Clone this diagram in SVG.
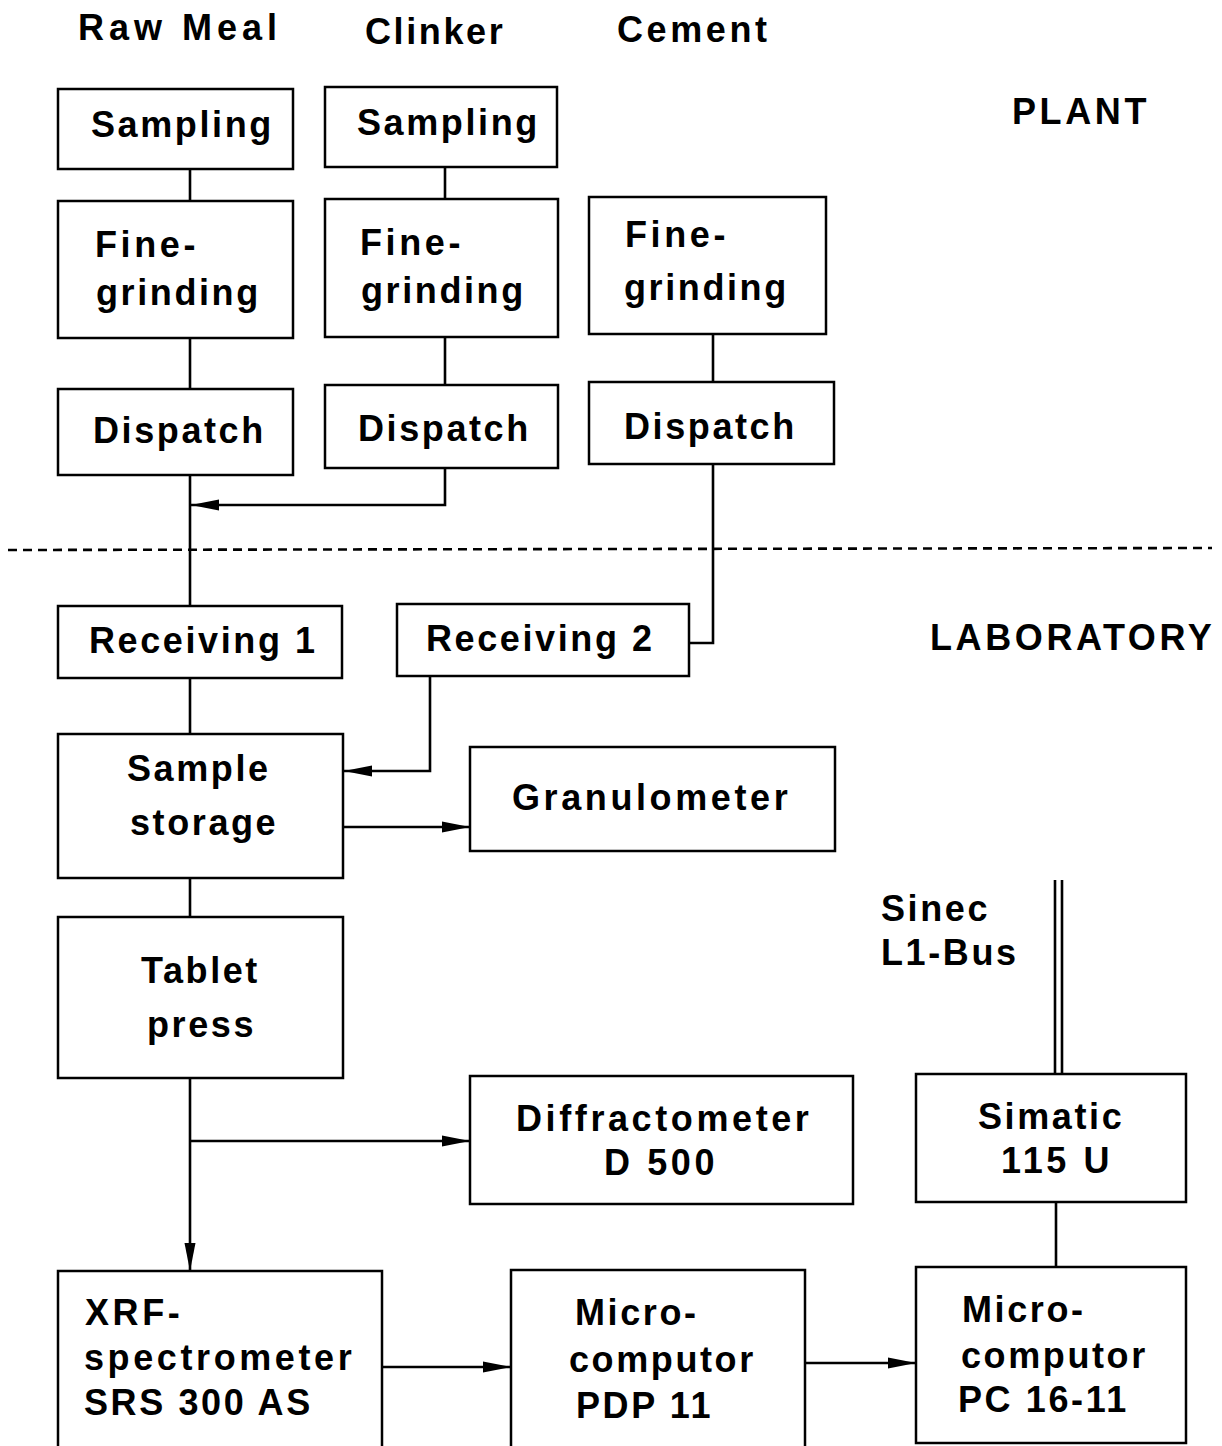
<svg xmlns="http://www.w3.org/2000/svg" width="1222" height="1446" viewBox="0 0 1222 1446">
<style>
rect.b{fill:none;stroke:#000;stroke-width:2.5}
text{font-family:"Liberation Sans",Arial,sans-serif;font-weight:bold;font-size:36px;letter-spacing:3.6px;fill:#000}
text.n{letter-spacing:2.6px}
text.w{letter-spacing:5px}
.c line,.c polyline{fill:none;stroke:#000;stroke-width:2.6}
</style>
<defs>
<marker id="ah" markerUnits="userSpaceOnUse" markerWidth="30" markerHeight="12" refX="28" refY="6" orient="auto">
<path d="M0,0.5 L28,6 L0,11.5 Z" fill="#000"/>
</marker>
</defs>
<rect width="1222" height="1446" fill="#fff"/>
<g id="headers">
<text class="w" x="78" y="40">Raw Meal</text>
<text class="n" x="365" y="44">Clinker</text>
<text x="617" y="42">Cement</text>
<text x="1012" y="124">PLANT</text>
<text x="930" y="650">LABORATORY</text>
</g>
<g id="sampling1"><rect class="b" x="58" y="89" width="235" height="80"/><text class="n" x="91" y="137">Sampling</text></g>
<g id="sampling2"><rect class="b" x="325" y="87" width="232" height="80"/><text class="n" x="357" y="135">Sampling</text></g>
<g id="fine1"><rect class="b" x="58" y="201" width="235" height="137"/><text x="95" y="257">Fine-</text><text class="n" x="96" y="305">grinding</text></g>
<g id="fine2"><rect class="b" x="325" y="199" width="233" height="138"/><text x="360" y="255">Fine-</text><text class="n" x="361" y="303">grinding</text></g>
<g id="fine3"><rect class="b" x="589" y="197" width="237" height="137"/><text x="625" y="247">Fine-</text><text class="n" x="624" y="300">grinding</text></g>
<g id="dispatch1"><rect class="b" x="58" y="389" width="235" height="86"/><text class="n" x="93" y="443">Dispatch</text></g>
<g id="dispatch2"><rect class="b" x="325" y="385" width="233" height="83"/><text class="n" x="358" y="441">Dispatch</text></g>
<g id="dispatch3"><rect class="b" x="589" y="382" width="245" height="82"/><text class="n" x="624" y="439">Dispatch</text></g>
<g id="receiving1"><rect class="b" x="58" y="606" width="284" height="72"/><text class="n" x="89" y="653">Receiving 1</text></g>
<g id="receiving2"><rect class="b" x="397" y="604" width="292" height="72"/><text class="n" x="426" y="651">Receiving 2</text></g>
<g id="storage"><rect class="b" x="58" y="734" width="285" height="144"/><text class="n" x="127" y="781">Sample</text><text class="n" x="130" y="835">storage</text></g>
<g id="granulometer"><rect class="b" x="470" y="747" width="365" height="104"/><text x="512" y="810">Granulometer</text></g>
<g id="tablet"><rect class="b" x="58" y="917" width="285" height="161"/><text class="n" x="141" y="983">Tablet</text><text class="n" x="147" y="1037">press</text></g>
<g id="diffractometer"><rect class="b" x="470" y="1076" width="383" height="128"/><text x="516" y="1131">Diffractometer</text><text x="604" y="1175">D 500</text></g>
<g id="simatic"><rect class="b" x="916" y="1074" width="270" height="128"/><text class="n" x="978" y="1129">Simatic</text><text x="1001" y="1173">115 U</text></g>
<g id="bus"><text class="n" x="881" y="921">Sinec</text><text class="n" x="881" y="965">L1-Bus</text></g>
<g id="xrf"><rect class="b" x="58" y="1271" width="324" height="185"/><text x="85" y="1325">XRF-</text><text x="84" y="1370">spectrometer</text><text class="n" x="84" y="1415">SRS 300 AS</text></g>
<g id="pdp"><rect class="b" x="511" y="1270" width="294" height="186"/><text class="n" x="575" y="1325">Micro-</text><text class="n" x="569" y="1372">computor</text><text class="n" x="576" y="1418">PDP 11</text></g>
<g id="pc"><rect class="b" x="916" y="1267" width="270" height="176"/><text class="n" x="962" y="1322">Micro-</text><text class="n" x="961" y="1368">computor</text><text class="n" x="958" y="1412">PC 16-11</text></g>
<g class="c" id="connectors">
<line x1="190" y1="169" x2="190" y2="201"/>
<line x1="190" y1="338" x2="190" y2="389"/>
<line x1="190" y1="475" x2="190" y2="606"/>
<line x1="445" y1="167" x2="445" y2="199"/>
<line x1="445" y1="337" x2="445" y2="385"/>
<polyline points="445,468 445,505 191,505" marker-end="url(#ah)"/>
<line x1="713" y1="334" x2="713" y2="382"/>
<polyline points="713,464 713,643 689,643"/>
<line x1="8" y1="550" x2="1212" y2="548" stroke-dasharray="9,6" stroke-width="2"/>
<line x1="190" y1="678" x2="190" y2="734"/>
<polyline points="430,676 430,771 344,771" marker-end="url(#ah)"/>
<line x1="343" y1="827" x2="470" y2="827" marker-end="url(#ah)"/>
<line x1="190" y1="878" x2="190" y2="917"/>
<line x1="190" y1="1078" x2="190" y2="1271" marker-end="url(#ah)"/>
<line x1="190" y1="1141" x2="470" y2="1141" marker-end="url(#ah)"/>
<line x1="382" y1="1367" x2="511" y2="1367" marker-end="url(#ah)"/>
<line x1="805" y1="1363" x2="916" y2="1363" marker-end="url(#ah)"/>
<line x1="1056" y1="1202" x2="1056" y2="1267"/>
<line x1="1055" y1="880" x2="1055" y2="1074"/>
<line x1="1062" y1="880" x2="1062" y2="1074"/>
</g>
</svg>
